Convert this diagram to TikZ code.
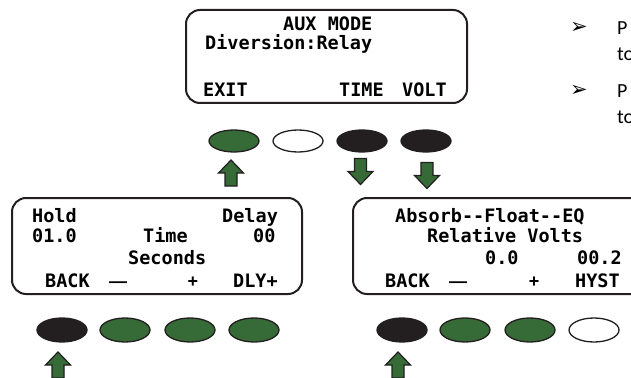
\documentclass[tikz,border=0pt]{standalone}
\usepackage{fontspec}
\usetikzlibrary{shapes.geometric}
\newfontfamily\lcdfont{DejaVu Sans Mono}
\newfontfamily\keyfont{Liberation Sans}
\newfontfamily\notefont{Carlito}
\newfontfamily\symfont{DejaVu Sans}
\definecolor{keygreen}{RGB}{54,106,55}
\definecolor{keyblack}{RGB}{35,31,32}

\begin{document}
\begin{tikzpicture}[x=1pt, y=-1pt,
lcd/.style={font=\lcdfont\bfseries\fontsize{18.5}{20}\selectfont, inner sep=0pt, anchor=base west},
keylab/.style={font=\keyfont\bfseries\fontsize{18}{18}\selectfont, inner sep=0pt, anchor=base},
note/.style={font=\notefont\fontsize{20}{22}\selectfont, inner sep=0pt, anchor=base west},
bullet/.style={font=\symfont\fontsize{21}{22}\selectfont, inner sep=0pt, anchor=base west},
screen/.style={draw=keyblack, line width=2pt, rounded corners=14pt},
button/.style={ellipse, draw=keyblack, line width=1.3pt, minimum width=50pt, minimum height=22pt, inner sep=0pt},
greenbtn/.style={button, fill=keygreen},
blackbtn/.style={button, fill=keyblack},
whitebtn/.style={button, fill=white},
blockarrow/.pic={\draw[keyblack, line width=1.2pt, fill=keygreen, line join=miter]
  (-6,-13) -- (6,-13) -- (6,0) -- (12.5,0) -- (0,13) -- (-12.5,0) -- (-6,0) -- cycle;}
]
\useasboundingbox (0,0) rectangle (631,377);
\clip (0,0) rectangle (631,377);

% screens
\draw[screen] (186,10) rectangle (467,103);
\draw[screen] (12,198) rectangle (302,294);
\draw[screen] (353,198) rectangle (645,294);

% aux mode screen
\node[lcd] (auxmode) at (283,31) {AUX MODE};
\node[lcd] (divert) at (205,50) {Diversion:Relay};
\node[lcd] (exit) at (203,97) {EXIT};
\node[lcd] (time) at (339,97) {TIME};
\node[lcd] (volt) at (402,97) {VOLT};

\node [greenbtn] (t1) at (234,141) {};
\node [whitebtn] (t2) at (298,141) {};
\node [blackbtn] (t3) at (362,141) {};
\node [blackbtn] (t4) at (426,141) {};

\pic[rotate=180] at (231,173) {blockarrow};
\pic at (360.5,171.5) {blockarrow};
\pic at (427,175.5) {blockarrow};

% time screen
\node[lcd] (hold) at (32,222) {Hold};
\node[lcd] (delay) at (222,222) {Delay};
\node[lcd] (holdval) at (32,242) {01.0};
\node[lcd] (timelab) at (143,242) {Time};
\node[lcd] (delayval) at (253,242) {00};
\node[lcd] (seconds) at (128,264) {Seconds};
\node[lcd] (backl) at (45,287) {BACK};
\node[keylab] (minusl) at (118,287) {—};
\node[keylab] (plusl) at (193,287) {+};
\node[lcd] (dly) at (233,287) {DLY+};

\node [blackbtn, minimum height=24pt] (l1) at (62,330) {};
\node [greenbtn, minimum height=24pt] (l2) at (125,330) {};
\node [greenbtn, minimum height=24pt] (l3) at (190,330) {};
\node [greenbtn, minimum height=24pt] (l4) at (254,330) {};

\pic[rotate=180] at (58,365) {blockarrow};

% volt screen
\node[lcd] (stages) at (395,222) {Absorb--Float--EQ};
\node[lcd] (relvolts) at (427,242) {Relative Volts};
\node[lcd] (voltval) at (485,264) {0.0};
\node[lcd] (hystval) at (577,264) {00.2};
\node[lcd] (backr) at (385,287) {BACK};
\node[keylab] (minusr) at (458,287) {—};
\node[keylab] (plusr) at (534,287) {+};
\node[lcd] (hyst) at (575,287) {HYST};

\node [blackbtn, minimum height=24pt] (r1) at (402,330) {};
\node [greenbtn, minimum height=24pt] (r2) at (465,330) {};
\node [greenbtn, minimum height=24pt] (r3) at (530,330) {};
\node [whitebtn, minimum height=24pt] (r4) at (594,330) {};

\pic[rotate=180] at (398,365) {blockarrow};

% notes
\node[bullet] (bul1) at (570,34) {➢};
\node[note] (note1) at (617,35) {P};
\node[note] (note1b) at (617,61) {to};
\node[bullet] (bul2) at (570,97) {➢};
\node[note] (note2) at (617,98) {P};
\node[note] (note2b) at (617,124) {to};
\end{tikzpicture}
\end{document}
